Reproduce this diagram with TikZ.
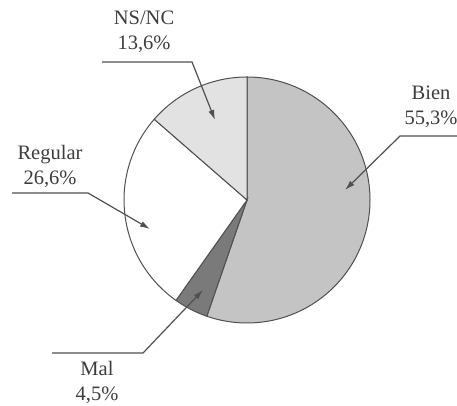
\documentclass[tikz,border=0pt]{standalone}
\usepackage{fontspec}
\setmainfont{Liberation Serif}
\usetikzlibrary{arrows.meta}

\begin{document}
\begin{tikzpicture}[x=1pt,y=1pt,
    linie/.style={draw=mylinegray, line width=1.2pt},
    zeiger/.style={linie, -{Latex[length=10pt,width=6pt]}},
    rand/.style={draw=mylinegray, line width=1pt},
    etikett/.style={font=\fontsize{20.5}{25}\selectfont, align=center, inner sep=0pt, text=mytextgray}]

\definecolor{mybien}{RGB}{196,196,196}
\definecolor{mymal}{RGB}{122,122,122}
\definecolor{myregular}{RGB}{255,255,255}
\definecolor{mynsnc}{RGB}{226,226,226}
\definecolor{mylinegray}{RGB}{80,80,80}
\definecolor{mytextgray}{RGB}{60,60,60}

    %Rahmen
    \useasboundingbox (0,0) rectangle (457,406);

    %Sektoren
    \coordinate (m) at (247,206);
    \draw [rand, fill=mybien] (m) -- ++(90:123) arc (90:-109.08:123) -- cycle;
    \draw [rand, fill=mymal] (m) -- ++(-109.08:123) arc (-109.08:-125.28:123) -- cycle;
    \draw [rand, fill=myregular] (m) -- ++(-125.28:123) arc (-125.28:-221.04:123) -- cycle;
    \draw [rand, fill=mynsnc] (m) -- ++(138.96:123) arc (138.96:90:123) -- cycle;

    %Beschriftung
    \node [etikett, anchor=north] (nsnc) at (144,395) {NS/NC\\13,6\%};
    \node [etikett, anchor=north] (bien) at (431,320) {Bien\\55,3\%};
    \node [etikett, anchor=north] (regular) at (50,261) {Regular\\26,6\%};
    \node [etikett, anchor=south] (mal) at (97,2) {Mal\\4,5\%};

    %Linien
    \coordinate (nsnc-a) at (102,344);
    \coordinate (nsnc-b) at (192,344);
    \coordinate (nsnc-z) at (215,286);
    \draw [zeiger] (nsnc-a) -- (nsnc-b) -- (nsnc-z);

    \coordinate (bien-a) at (457,270);
    \coordinate (bien-b) at (400,270);
    \coordinate (bien-z) at (345,216);
    \draw [zeiger] (bien-a) -- (bien-b) -- (bien-z);

    \coordinate (regular-a) at (12,213);
    \coordinate (regular-b) at (88,213);
    \coordinate (regular-z) at (150,177);
    \draw [zeiger] (regular-a) -- (regular-b) -- (regular-z);

    \coordinate (mal-a) at (52,53);
    \coordinate (mal-b) at (143,53);
    \coordinate (mal-z) at (203,116);
    \draw [zeiger] (mal-a) -- (mal-b) -- (mal-z);

\end{tikzpicture}
\end{document}
